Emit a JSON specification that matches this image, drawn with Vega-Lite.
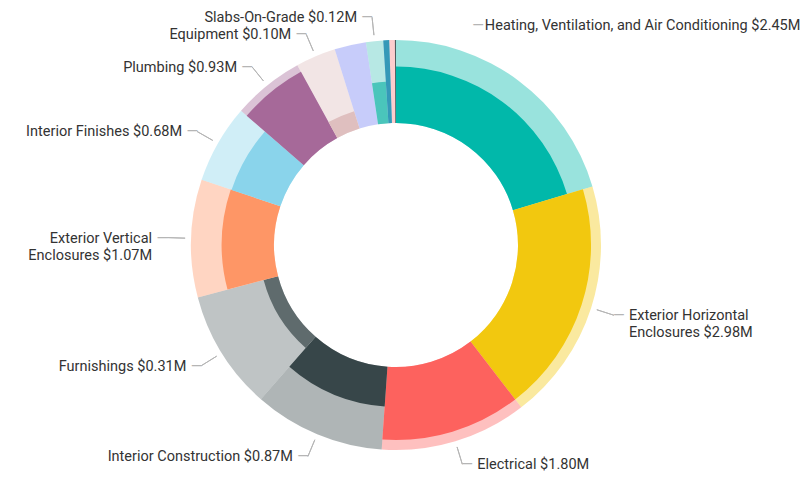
{
  "$schema": "https://vega.github.io/schema/vega-lite/v6.json",
  "width": 792,
  "height": 466,
  "autosize": {"type": "none"},
  "padding": {"left": 0, "top": 12, "right": 9, "bottom": 0},
  "background": "white",
  "config": {"view": {"stroke": null}, "text": {"font": "Roboto", "fontSize": 14.5, "fill": "#333333"}},
  "data": {
    "values": [
      {"category": "Heating, Ventilation, and Air Conditioning", "budget": 3.61, "actual": 2.45, "pct": 0.68, "label": "Heating, Ventilation, and Air Conditioning $2.45M"},
      {"category": "Exterior Horizontal Enclosures", "budget": 3.39, "actual": 2.98, "pct": 0.88, "label": ["Exterior Horizontal", "Enclosures $2.98M"]},
      {"category": "Electrical", "budget": 2.05, "actual": 1.80, "pct": 0.88, "label": "Electrical $1.80M"},
      {"category": "Interior Construction", "budget": 1.83, "actual": 0.87, "pct": 0.48, "label": "Interior Construction $0.87M"},
      {"category": "Furnishings", "budget": 1.67, "actual": 0.31, "pct": 0.18, "label": "Furnishings $0.31M"},
      {"category": "Exterior Vertical Enclosures", "budget": 1.64, "actual": 1.07, "pct": 0.63, "label": ["Exterior Vertical", "Enclosures $1.07M"]},
      {"category": "Interior Finishes", "budget": 1.10, "actual": 0.68, "pct": 0.62, "label": "Interior Finishes $0.68M"},
      {"category": "Plumbing", "budget": 1.00, "actual": 0.93, "pct": 0.91, "label": "Plumbing $0.93M"},
      {"category": "Equipment", "budget": 0.56, "actual": 0.10, "pct": 0.22, "label": "Equipment $0.10M"},
      {"category": "Unlabeled A", "budget": 0.44, "actual": 0, "pct": 0, "label": ""},
      {"category": "Slabs-On-Grade", "budget": 0.24, "actual": 0.12, "pct": 0.5, "label": "Slabs-On-Grade $0.12M"},
      {"category": "Unlabeled B", "budget": 0.081, "actual": 0.081, "pct": 1, "label": ""},
      {"category": "Unlabeled C", "budget": 0.079, "actual": 0, "pct": 0, "label": ""},
      {"category": "Unlabeled D", "budget": 0.015, "actual": 0.015, "pct": 1, "label": ""}
    ]
  },
  "encoding": {
    "theta": {"field": "budget", "type": "quantitative", "stack": true},
    "order": {"field": "budget", "type": "quantitative", "sort": "descending"}
  },
  "layer": [
    {
      "mark": {"type": "arc", "radius": 205, "radius2": 122, "opacity": 0.4},
      "encoding": {
        "color": {
          "field": "category", "type": "nominal", "legend": null,
          "scale": {
            "domain": ["Heating, Ventilation, and Air Conditioning", "Exterior Horizontal Enclosures", "Electrical", "Interior Construction", "Furnishings", "Exterior Vertical Enclosures", "Interior Finishes", "Plumbing", "Equipment", "Unlabeled A", "Slabs-On-Grade", "Unlabeled B", "Unlabeled C", "Unlabeled D"],
            "range": ["#01B8AA", "#F2C80F", "#FD625E", "#374649", "#5F6B6D", "#FE9666", "#8AD4EB", "#A66999", "#DFBFBF", "#7480F2", "#4AC5BB", "#3599B8", "#FB8281", "#4F5B5D"]
          }
        }
      }
    },
    {
      "transform": [
        {"stack": "budget", "groupby": [], "sort": [{"field": "budget", "order": "descending"}], "as": ["b0", "b1"]}
      ],
      "mark": {"type": "arc"},
      "encoding": {
        "theta": {"field": "b0", "type": "quantitative", "stack": null},
        "theta2": {"field": "b1"},
        "color": {"field": "category", "type": "nominal", "legend": null},
        "radius": {"field": "pct", "type": "quantitative", "stack": null, "scale": {"type": "linear", "domain": [0, 1], "range": [122, 205]}},
        "radius2": {"value": 122}
      }
    },
    {
      "mark": {"type": "arc", "radius": 229, "radius2": 211, "padAngle": 1.4, "fillOpacity": 0, "stroke": "#b5b5b5", "strokeWidth": 1},
      "encoding": {
        "detail": {"field": "category", "type": "nominal"},
        "strokeOpacity": {
          "condition": {"test": "indexof(['Exterior Horizontal Enclosures','Electrical','Interior Construction','Furnishings','Exterior Vertical Enclosures','Interior Finishes','Plumbing','Equipment','Slabs-On-Grade'], datum.category) >= 0", "value": 1},
          "value": 0
        }
      }
    },
    {
      "mark": {"type": "text", "radius": 229, "align": "left", "baseline": "alphabetic", "dx": 15, "dy": 5, "lineHeight": 17},
      "encoding": {
        "detail": {"field": "category", "type": "nominal"},
        "text": {"condition": {"test": "indexof(['Exterior Horizontal Enclosures','Electrical'], datum.category) >= 0", "field": "label"}, "value": ""}
      }
    },
    {
      "mark": {"type": "text", "radius": 229, "align": "right", "baseline": "alphabetic", "dx": -15, "dy": 5, "lineHeight": 17},
      "encoding": {
        "detail": {"field": "category", "type": "nominal"},
        "text": {"condition": {"test": "indexof(['Interior Construction','Furnishings','Exterior Vertical Enclosures','Interior Finishes','Plumbing','Equipment','Slabs-On-Grade'], datum.category) >= 0", "field": "label"}, "value": ""}
      }
    },
    {
      "mark": {"type": "text", "radius": 229, "align": "left", "baseline": "alphabetic", "dx": -48, "dy": -31},
      "encoding": {
        "detail": {"field": "category", "type": "nominal"},
        "text": {"condition": {"test": "datum.category === 'Heating, Ventilation, and Air Conditioning'", "field": "label"}, "value": ""}
      }
    },
    {
      "mark": {"type": "text", "radius": 229, "align": "left", "baseline": "alphabetic", "dx": -1, "dy": 5, "fontSize": 15, "fill": "#b5b5b5"},
      "encoding": {
        "detail": {"field": "category", "type": "nominal"},
        "text": {"condition": {"test": "indexof(['Exterior Horizontal Enclosures','Electrical'], datum.category) >= 0", "value": "—"}, "value": ""}
      }
    },
    {
      "mark": {"type": "text", "radius": 229, "align": "right", "baseline": "alphabetic", "dx": 1, "dy": 5, "fontSize": 15, "fill": "#b5b5b5"},
      "encoding": {
        "detail": {"field": "category", "type": "nominal"},
        "text": {"condition": {"test": "indexof(['Interior Construction','Furnishings','Exterior Vertical Enclosures','Interior Finishes','Plumbing','Equipment','Slabs-On-Grade'], datum.category) >= 0", "value": "—"}, "value": ""}
      }
    },
    {
      "mark": {"type": "text", "radius": 229, "align": "right", "baseline": "alphabetic", "dx": -49, "dy": -31, "fontSize": 15, "fill": "#b5b5b5"},
      "encoding": {
        "detail": {"field": "category", "type": "nominal"},
        "text": {"condition": {"test": "datum.category === 'Heating, Ventilation, and Air Conditioning'", "value": "—"}, "value": ""}
      }
    }
  ]
}
